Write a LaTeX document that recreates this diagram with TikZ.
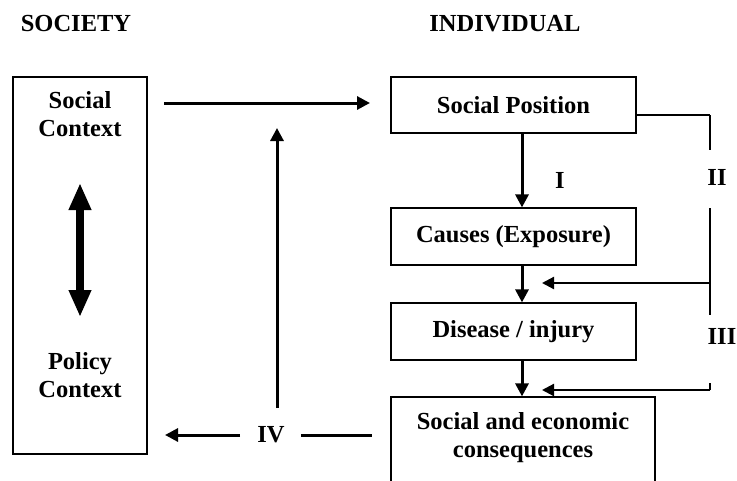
\documentclass[tikz,border=0pt]{standalone}
\usepackage{fontspec}
\setmainfont{Liberation Serif}
\usetikzlibrary{arrows.meta,calc}
\begin{document}
\begin{tikzpicture}[x=1pt,y=-1pt,
  every node/.style={font=\fontsize{24.5}{28.5}\selectfont\bfseries, inner sep=0pt, align=center},
  box/.style={draw, line width=1.2pt},
  arr/.style={line width=3pt, -{Triangle[length=13pt,width=13pt]}},
  thinarr/.style={line width=2.2pt, -{Triangle[length=12pt,width=12pt]}},
  branch/.style={line width=2.5pt},
  bigarr/.style={line width=8pt, {Triangle[length=27pt,width=21pt]}-{Triangle[length=27pt,width=21pt]}}
]
\useasboundingbox (0,0) rectangle (737,480);
\clip (0,0) rectangle (737,480);

% headings
\node (society) at (76,24) {SOCIETY};
\node (individual) at (505,24) {INDIVIDUAL};

% left box
\node[box, minimum width=134pt, minimum height=377pt] (ctx) at (80,265.5) {};
\node (social) at (80,114) {Social\\Context};
\node (policy) at (80,375) {Policy\\Context};
\coordinate (dtop) at (80,183);
\coordinate (dbot) at (80,317);
\draw[bigarr] (dtop) -- (dbot);

% right boxes
\node[box, minimum width=245pt, minimum height=56pt] (sp) at (513.5,105) {Social Position};
\node[box, minimum width=245pt, minimum height=57pt] (causes) at (513.5,236.5) {Causes (Exposure)};
\node[box, minimum width=245pt, minimum height=57pt] (disease) at (513.5,331.5) {Disease / injury};
\node[box, minimum width=264pt, minimum height=100pt] (cons) at (523,447) {};
\node (conslbl) at (523,437.5) {Social and economic\\consequences};

% axis for vertical arrows
\coordinate (ax) at (522,0);
\draw[arr] (sp.south -| ax) -- (causes.north -| ax);
\draw[arr] (causes.south -| ax) -- (disease.north -| ax);
\draw[arr] (disease.south -| ax) -- (cons.north -| ax);
\node (lI) at (560,180) {I};

% top arrow social context -> social position
\coordinate (topstart) at (164,103);
\coordinate (topend) at (370,103);
\draw[arr] (topstart) -- (topend);

% upward arrow
\coordinate (upbot) at (277,408);
\coordinate (uptop) at (277,128);
\draw[arr] (upbot) -- (uptop);

% IV arrow
\node (lIV) at (271,435) {IV};
\coordinate (ivleft) at (165,435);
\coordinate (ivright) at (372,435);
\draw[arr] ([xshift=-17pt]lIV.west) -- (ivleft);
\draw[line width=3pt] ([xshift=16pt]lIV.east) -- (ivright);

% II / III branch
\coordinate (b1) at (710,115);
\coordinate (b2) at (710,150);
\coordinate (b3) at (710,208);
\coordinate (b4) at (710,315);
\coordinate (b5) at (710,383);
\coordinate (b6) at (710,390);
\coordinate (t1) at (542,283);
\coordinate (t2) at (542,390);
\draw[line width=2pt] (sp.east |- b1) -- (b1);
\draw[branch] (b1) -- (b2);
\node (lII) at (717,177) {II};
\draw[branch] (b3) -- (b4);
\draw[thinarr] (b3 |- t1) -- (t1);
\node[anchor=east] (lIII) at (736.5,336) {III};
\draw[branch] (b5) -- (b6);
\draw[thinarr] (b6) -- (t2);
\end{tikzpicture}
\end{document}
